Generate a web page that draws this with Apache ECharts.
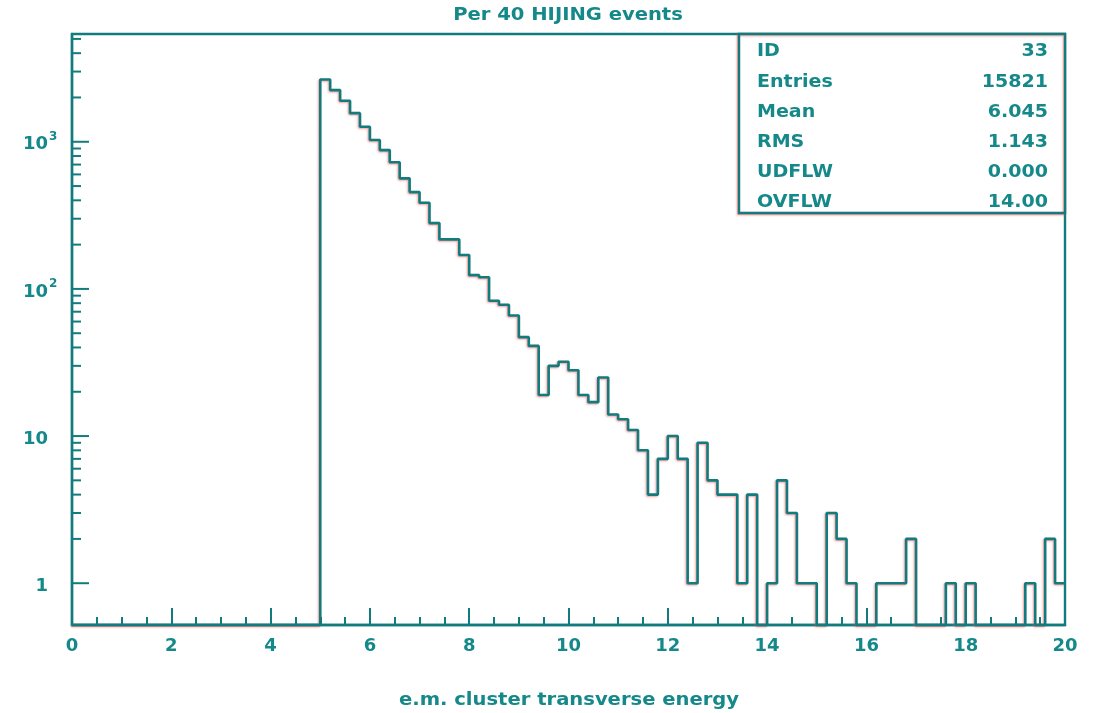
<!DOCTYPE html>
<html>
<head>
<meta charset="utf-8">
<script src="https://cdn.jsdelivr.net/npm/echarts@6/dist/echarts.min.js"></script>
<style>
  html, body { margin: 0; padding: 0; background: #ffffff; }
  #chart { width: 1095px; height: 713px; }
</style>
</head>
<body>
<div id="chart"></div>
<script>
// ---- data ----
const binStart = 0;
const binWidth = 0.2;
// counts per 0.2-wide bin, from 0.0 to 20.0 (100 bins)
const countsBelow5 = new Array(25).fill(0);
const counts5to10 = [2650, 2245, 1900, 1565, 1265, 1027, 878, 725, 564, 455,
                     385, 280, 217, 217, 170, 124, 120, 83, 78, 66,
                     47, 41, 19, 30, 32];
const counts10to15 = [28, 19, 17, 25, 14, 13, 11, 8, 4, 7,
                      10, 7, 1, 9, 5, 4, 4, 1, 4, 0,
                      1, 5, 3, 1, 1];
const counts15to20 = [0, 3, 2, 1, 0, 0, 1, 1, 1, 2,
                      0, 0, 0, 1, 0, 1, 0, 0, 0, 0,
                      0, 1, 0, 2, 1];
const counts = countsBelow5.concat(counts5to10, counts10to15, counts15to20);

const xTickInterval = 2;
const yMajorValues = [1, 10, 100, 1000];
const yMajorBase = ['1', '10', '10', '10'];
const yMajorSup = ['', '', '2', '3'];
const yMinorMultipliers = [2, 3, 4, 5, 6, 7, 8, 9];

const titleText = 'Per 40 HIJING events';
const xAxisTitle = 'e.m. cluster transverse energy';
const statLabels = ['ID', 'Entries', 'Mean', 'RMS', 'UDFLW', 'OVFLW'];
const statValues = ['33', '15821', '6.045', '1.143', '0.000', '14.00'];

// ---- styling ----
const TEAL = '#15888a';
const LINE = '#127b7d';
const Y_MIN = 0.52, Y_MAX = 5400;
const FONT = 'DejaVu Sans';
const fringe = { shadowColor: 'rgba(235,80,80,0.55)', shadowBlur: 2, shadowOffsetX: -1, shadowOffsetY: 1 };

// step outline built from the bins
const stepPoints = [];
counts.forEach((c, i) => {
  const v = c > 0 ? c : Y_MIN;
  const x0 = +(binStart + i * binWidth).toFixed(2);
  const x1 = +(binStart + (i + 1) * binWidth).toFixed(2);
  stepPoints.push([x0, v], [x1, v]);
});

// y tick data (log ticks)
const yTicks = [];
yMajorValues.forEach(dec => {
  yTicks.push([0, dec, 1]);
  yMinorMultipliers.forEach(m => { if (m * dec <= Y_MAX) yTicks.push([0, m * dec, 0]); });
});

const chart = echarts.init(document.getElementById('chart'), null, { renderer: 'canvas' });

const statGraphics = [];
const boxLeft = 739, boxTop = 34, boxW = 326, boxH = 179, rowH = 30.2;
statGraphics.push({
  type: 'rect', shape: { x: boxLeft, y: boxTop, width: boxW, height: boxH },
  style: Object.assign({ fill: '#ffffff', stroke: LINE, lineWidth: 2.4 }, fringe), z: 100
});
statLabels.forEach((lab, i) => {
  const cy = boxTop + 18 + i * rowH;
  statGraphics.push({
    type: 'text', x: boxLeft + 18, y: cy, scaleX: 1.12, z: 101,
    style: { text: lab, fill: TEAL, font: 'bold 17px "' + FONT + '"', textAlign: 'left', textVerticalAlign: 'middle' }
  });
  statGraphics.push({
    type: 'text', x: boxLeft + boxW - 17, y: cy, scaleX: 1.12, z: 101,
    style: { text: statValues[i], fill: TEAL, font: 'bold 17px "' + FONT + '"', textAlign: 'right', textVerticalAlign: 'middle' }
  });
});

const option = {
  backgroundColor: '#ffffff',
  animation: false,
  grid: { left: 72, right: 30, top: 34, bottom: 88, show: true, borderColor: LINE, borderWidth: 2.4, backgroundColor: 'transparent' },
  xAxis: {
    type: 'value', min: 0, max: 20, interval: xTickInterval,
    axisLine: { show: true, onZero: false, lineStyle: { color: LINE, width: 2.4 } },
    axisTick: { show: true, inside: true, length: 17, lineStyle: { color: LINE, width: 2 } },
    minorTick: { show: true, splitNumber: 4, length: 8, lineStyle: { color: LINE, width: 2 } },
    axisLabel: { color: TEAL, fontSize: 18, fontWeight: 'bold', fontFamily: FONT, margin: 12 },
    splitLine: { show: false }, minorSplitLine: { show: false }
  },
  yAxis: {
    type: 'log', logBase: 10, min: Y_MIN, max: Y_MAX,
    axisLine: { show: true, lineStyle: { color: LINE, width: 2.4 } },
    axisTick: { show: false }, axisLabel: { show: false }, splitLine: { show: false }
  },
  graphic: [
    { type: 'text', x: 568, y: 16, scaleX: 1.15, style: { text: titleText, fill: TEAL, font: 'bold 17px "' + FONT + '"', textAlign: 'center', textVerticalAlign: 'middle' } },
    { type: 'text', x: 569, y: 701, scaleX: 1.15, style: { text: xAxisTitle, fill: TEAL, font: 'bold 17px "' + FONT + '"', textAlign: 'center', textVerticalAlign: 'middle' } }
  ].concat(statGraphics),
  series: [
    {
      type: 'line', data: stepPoints, symbol: 'none', clip: false, z: 5,
      lineStyle: Object.assign({ color: LINE, width: 2.6 }, fringe)
    },
    {
      type: 'custom', coordinateSystem: 'cartesian2d', clip: false, silent: true, z: 6,
      encode: { x: 0, y: 1 },
      data: yTicks,
      renderItem: function (params, api) {
        const val = api.value(1);
        const major = api.value(2) === 1;
        const p = api.coord([0, val]);
        const children = [{
          type: 'line',
          shape: { x1: p[0], y1: p[1], x2: p[0] + (major ? 17 : 9), y2: p[1] },
          style: { stroke: LINE, lineWidth: 2 }
        }];
        if (major) {
          const k = yMajorValues.indexOf(val);
          children.push({
            type: 'text', x: 48, y: p[1] + 3,
            style: { text: yMajorBase[k], fill: TEAL, font: 'bold 18px "' + FONT + '"', textAlign: 'right', textVerticalAlign: 'middle' }
          });
          if (yMajorSup[k]) {
            children.push({
              type: 'text', x: 49, y: p[1] - 5,
              style: { text: yMajorSup[k], fill: TEAL, font: 'bold 12px "' + FONT + '"', textAlign: 'left', textVerticalAlign: 'middle' }
            });
          }
        }
        return { type: 'group', children: children };
      }
    }
  ]
};
chart.setOption(option);
</script>
</body>
</html>
